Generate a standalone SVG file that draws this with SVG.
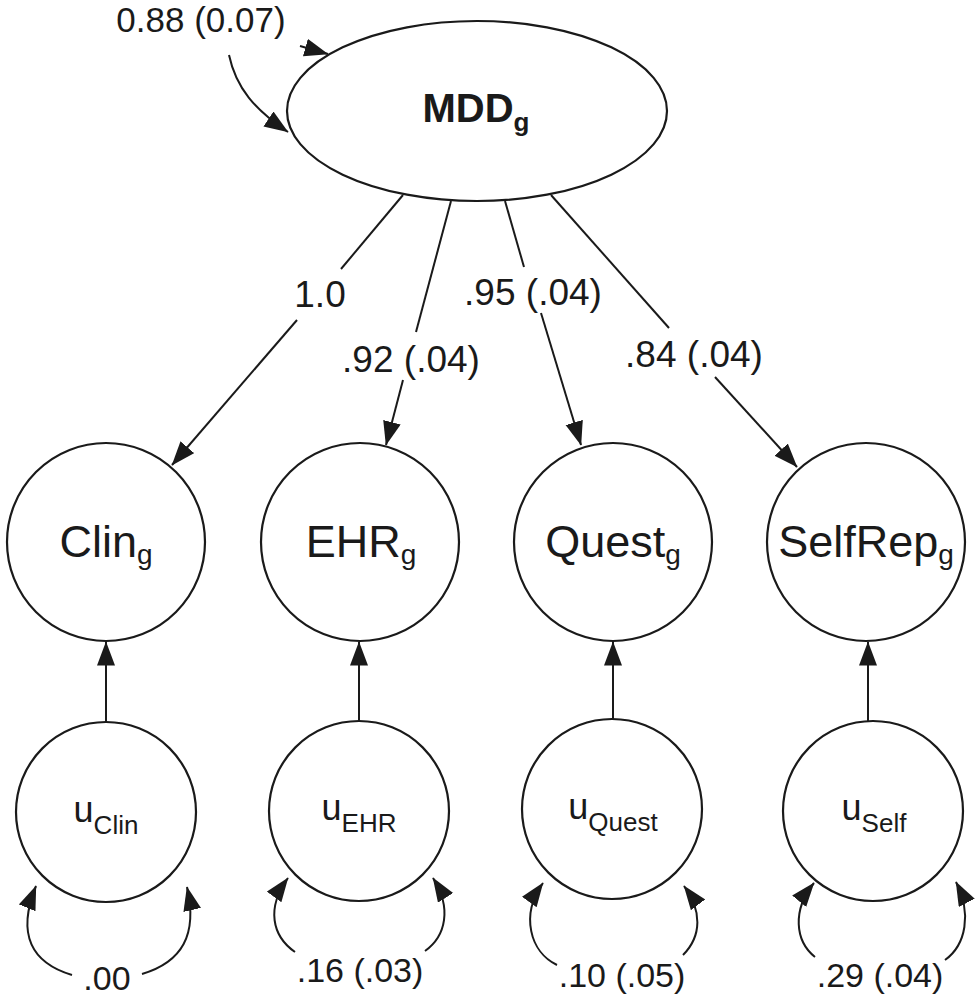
<svg xmlns="http://www.w3.org/2000/svg" width="975" height="1000" viewBox="0 0 975 1000">
<style>
  text { font-family: "Liberation Sans", Arial, Helvetica, sans-serif; fill: #1a1a1a; }
  .node { fill: #ffffff; stroke: #1a1a1a; stroke-width: 2.2; }
  .edge { fill: none; stroke: #1a1a1a; stroke-width: 2; }
  .arr { marker-end: url(#ah); }
  .lbl { font-size: 37px; text-anchor: middle; }
  .vlbl { font-size: 34px; text-anchor: middle; }
  .big { font-size: 45px; text-anchor: middle; }
  .u { font-size: 36px; text-anchor: middle; }
</style>
<defs>
  <marker id="ah" markerUnits="userSpaceOnUse" markerWidth="26" markerHeight="20" refX="23.5" refY="9" orient="auto">
    <path d="M0,0 L24,9 L0,18 Z" fill="#1a1a1a"/>
  </marker>
</defs>
<rect width="975" height="1000" fill="#ffffff"/>

<g id="MDDg">
  <ellipse class="node" cx="477" cy="111" rx="190" ry="90"/>
  <text x="476" y="122" text-anchor="middle" font-size="40" font-weight="bold">MDD<tspan font-size="26" dy="9">g</tspan></text>
</g>

<g id="Cling">
  <circle class="node" cx="106" cy="542" r="99"/>
  <text class="big" x="106" y="557">Clin<tspan font-size="28" dy="7">g</tspan></text>
</g>
<g id="EHRg">
  <circle class="node" cx="360" cy="542" r="99"/>
  <text class="big" x="361" y="557">EHR<tspan font-size="28" dy="7">g</tspan></text>
</g>
<g id="Questg">
  <circle class="node" cx="613" cy="542" r="99"/>
  <text class="big" x="613" y="557">Quest<tspan font-size="28" dy="7">g</tspan></text>
</g>
<g id="SelfRepg">
  <circle class="node" cx="866" cy="542" r="99"/>
  <text class="big" x="866" y="557">SelfRep<tspan font-size="28" dy="7">g</tspan></text>
</g>

<g id="uClin">
  <circle class="node" cx="106" cy="812" r="90"/>
  <text class="u" x="106" y="822">u<tspan font-size="26" dy="12">Clin</tspan></text>
</g>
<g id="uEHR">
  <circle class="node" cx="359" cy="811" r="90"/>
  <text class="u" x="359" y="820">u<tspan font-size="26" dy="12">EHR</tspan></text>
</g>
<g id="uQuest">
  <circle class="node" cx="612" cy="809" r="90"/>
  <text class="u" x="613" y="819">u<tspan font-size="26" dy="12">Quest</tspan></text>
</g>
<g id="uSelf">
  <circle class="node" cx="873" cy="811" r="90"/>
  <text class="u" x="874" y="820">u<tspan font-size="26" dy="12">Self</tspan></text>
</g>

<g id="connectors">
  <!-- MDDg variance -->
  <path class="edge arr" d="M229,55 C236,88 255,110 288,132"/>
  <path class="edge arr" d="M300,46 L328,54"/>
  <text x="201" y="32" font-size="35" text-anchor="middle">0.88 (0.07)</text>

  <!-- loadings -->
  <path class="edge" d="M403,195 L341,269"/>
  <path class="edge arr" d="M297,320 L172,465"/>
  <text class="lbl" x="320" y="307">1.0</text>

  <path class="edge" d="M451,201 L416,332"/>
  <path class="edge arr" d="M403,380 L386,445"/>
  <text class="lbl" x="411" y="372">.92 (.04)</text>

  <path class="edge" d="M505,201 L524,267"/>
  <path class="edge arr" d="M541,313 L581,445"/>
  <text class="lbl" x="533" y="305">.95 (.04)</text>

  <path class="edge" d="M551,195 L669,328"/>
  <path class="edge arr" d="M715,377 L797,467"/>
  <text class="lbl" x="694" y="367">.84 (.04)</text>

  <!-- residual paths -->
  <path class="edge arr" d="M106,722 L106,642"/>
  <path class="edge arr" d="M359,721 L359,642"/>
  <path class="edge arr" d="M613,719 L613,642"/>
  <path class="edge arr" d="M868,721 L868,642"/>

  <!-- residual variances -->
  <path class="edge arr" d="M72,975 C32,963 16,935 36,886"/>
  <path class="edge arr" d="M142,974 C182,962 198,935 187,887"/>
  <text class="vlbl" x="107" y="990">.00</text>

  <path class="edge arr" d="M295,952 C272,936 266,908 288,878"/>
  <path class="edge arr" d="M425,951 C446,936 452,908 433,878"/>
  <text class="vlbl" x="360" y="982">.16 (.03)</text>

  <path class="edge arr" d="M557,965 C530,952 520,915 543,883"/>
  <path class="edge arr" d="M683,955 C702,936 702,910 684,886"/>
  <text class="vlbl" x="622" y="987">.10 (.05)</text>

  <path class="edge arr" d="M815,957 C795,941 792,910 814,883"/>
  <path class="edge arr" d="M945,960 C966,945 972,913 956,882"/>
  <text class="vlbl" x="880" y="987">.29 (.04)</text>
</g>
</svg>
